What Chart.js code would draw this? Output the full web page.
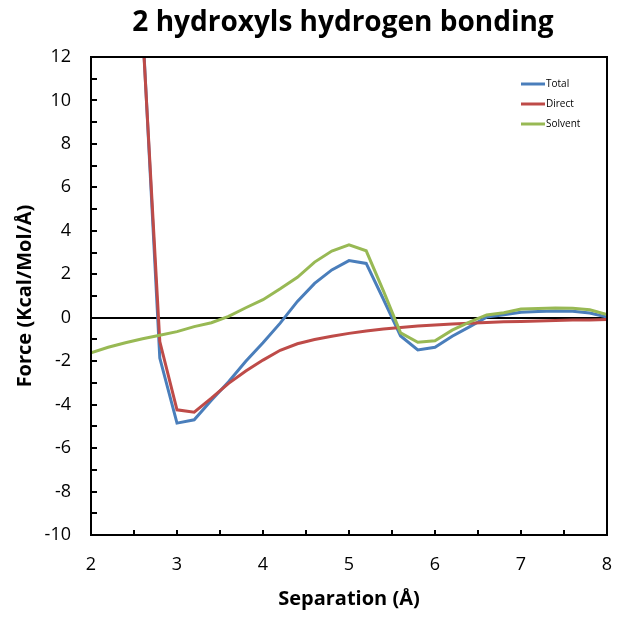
<!DOCTYPE html>
<html>
<head>
<meta charset="utf-8">
<script src="https://cdn.jsdelivr.net/npm/chart.js@4/dist/chart.umd.min.js"></script>
<style>
  html, body { margin: 0; padding: 0; background: #fff; }
  #wrap { width: 624px; height: 619px; }
</style>
</head>
<body>
<div id="wrap"><canvas id="force"></canvas></div>
<script>
// separation (A)
var separation = [2.0, 2.2, 2.4, 2.6, 2.8, 3.0, 3.2, 3.4, 3.6, 3.8, 4.0, 4.2, 4.4, 4.6, 4.8,
                  5.0, 5.2, 5.4, 5.6, 5.8, 6.0, 6.2, 6.4, 6.6, 6.8, 7.0, 7.2, 7.4, 7.6, 7.8, 8.0];
var total   = [null, null, null, 13.4, -1.86, -4.85, -4.7, -3.8, -2.95, -2.0, -1.15, -0.25, 0.75, 1.58, 2.2,
               2.63, 2.5, 0.85, -0.84, -1.48, -1.36, -0.85, -0.42, 0.03, 0.14, 0.25, 0.29, 0.31, 0.3, 0.22, 0.03];
var direct  = [null, null, null, 13.2, -1.1, -4.24, -4.35, -3.7, -3.02, -2.45, -1.95, -1.5, -1.2, -1.0, -0.85,
               -0.72, -0.61, -0.52, -0.45, -0.38, -0.33, -0.29, -0.25, -0.22, -0.19, -0.17, -0.15, -0.13, -0.11, -0.1, -0.08];
var solvent = [-1.61, -1.36, -1.15, -0.97, -0.81, -0.64, -0.41, -0.23, 0.06, 0.46, 0.83, 1.33, 1.86, 2.56, 3.07,
               3.35, 3.08, 1.24, -0.7, -1.13, -1.06, -0.57, -0.2, 0.13, 0.23, 0.4, 0.43, 0.45, 0.44, 0.37, 0.15];
var seriesNames = ["Total", "Direct", "Solvent"];
var seriesColors = ["#4A7EBB", "#BE4B48", "#98B954"];

var FONT = "'Open Sans', sans-serif";

function pts(vals) {
    return separation.map((x, i) => ({ x: x, y: vals[i] }));
}

// titulo, moldura, marcas internas e legenda
var extras = {
    id: "extras",
    afterDraw(chart) {
        var ctx = chart.ctx, a = chart.chartArea;
        var xs = chart.scales.x, ys = chart.scales.y;
        ctx.save();
        ctx.strokeStyle = "#000";
        ctx.lineWidth = 2;
        ctx.strokeRect(a.left, a.top, a.right - a.left, a.bottom - a.top);
        ctx.beginPath();
        for (var v = -10; v <= 12; v++) {
            var py = Math.round(ys.getPixelForValue(v));
            ctx.moveTo(a.left, py);
            ctx.lineTo(a.left + 6, py);
        }
        for (var u = 2; u <= 8; u += 0.5) {
            var px = Math.round(xs.getPixelForValue(u));
            ctx.moveTo(px, a.bottom);
            ctx.lineTo(px, a.bottom - 5);
        }
        ctx.stroke();

        // titulo
        ctx.fillStyle = "#000";
        ctx.font = "bold 28px " + FONT;
        ctx.textAlign = "center";
        ctx.textBaseline = "middle";
        ctx.fillText("2 hydroxyls hydrogen bonding", 343, 23);

        // legenda
        ctx.font = "10px " + FONT;
        ctx.textAlign = "left";
        chart.data.datasets.forEach((ds, i) => {
            var ly = 84 + i * 20;
            ctx.strokeStyle = ds.borderColor;
            ctx.lineWidth = 3;
            ctx.beginPath();
            ctx.moveTo(521, ly);
            ctx.lineTo(545, ly);
            ctx.stroke();
            ctx.fillStyle = "#000";
            ctx.fillText(ds.label, 546, ly);
        });
        ctx.restore();
    }
};

var grafico = new Chart(document.getElementById("force"), {
    type: "line",
    data: {
        datasets: [
            { label: seriesNames[0], data: pts(total), borderColor: seriesColors[0], order: 2 },
            { label: seriesNames[1], data: pts(direct), borderColor: seriesColors[1], order: 1 },
            { label: seriesNames[2], data: pts(solvent), borderColor: seriesColors[2], order: 0 }
        ]
    },
    options: {
        responsive: true,
        maintainAspectRatio: false,
        animation: false,
        spanGaps: false,
        elements: {
            line: { borderWidth: 3, tension: 0, fill: false, backgroundColor: "transparent" },
            point: { radius: 0, hoverRadius: 0 }
        },
        layout: { padding: { top: 57, right: 17, left: 0, bottom: 0 } },
        plugins: {
            legend: { display: false },
            title: { display: false },
            tooltip: { enabled: false }
        },
        scales: {
            x: {
                type: "linear",
                min: 2, max: 8,
                ticks: { stepSize: 1, color: "#000", padding: 11, font: { family: FONT, size: 18 } },
                grid: { display: false },
                border: { display: false },
                title: { display: true, text: "Separation (Å)", color: "#000",
                         font: { family: FONT, size: 20, weight: "bold" }, padding: { top: 0, bottom: 8 } },
                afterFit(s) { s.height = 84; }
            },
            y: {
                min: -10, max: 12,
                ticks: { stepSize: 2, color: "#000", padding: 20, font: { family: FONT, size: 18 } },
                grid: {
                    drawTicks: false,
                    color: (c) => c.tick && c.tick.value === 0 ? "#000" : "transparent",
                    lineWidth: 2
                },
                border: { display: false },
                title: { display: true, text: "Force (Kcal/Mol/Å)", color: "#000",
                         font: { family: FONT, size: 20, weight: "bold" }, padding: { top: 13, bottom: 0 } },
                afterFit(s) { s.width = 91; }
            }
        }
    },
    plugins: [extras]
});
</script>
</body>
</html>
